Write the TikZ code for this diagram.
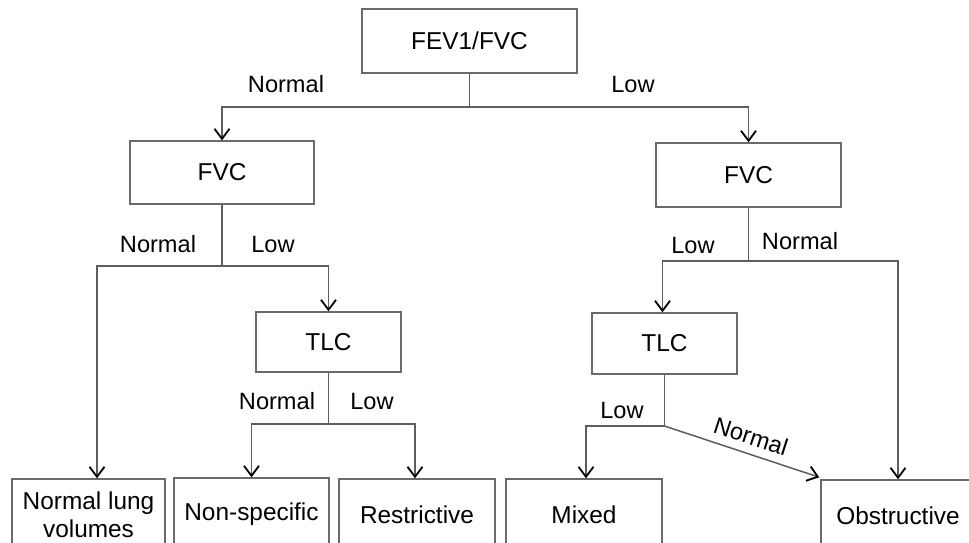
\documentclass[tikz,border=0pt]{standalone}
\usepackage{fontspec}
\setmainfont{Liberation Sans}
\usetikzlibrary{arrows.meta}
\definecolor{linegray}{HTML}{5E5E5E}
\definecolor{boxgray}{HTML}{6A6A6A}
\begin{document}
\begin{tikzpicture}[x=0.5pt,y=-0.5pt,
  every node/.style={font=\fontsize{11.8}{13.5}\selectfont, text=black},
  box/.style={draw=boxgray, line width=0.75pt, inner sep=0pt, align=center, font=\fontsize{12.2}{13.8}\selectfont},
  lbl/.style={anchor=base, inner sep=0pt},
  conn/.style={draw=linegray, line width=0.75pt},
  arr/.style={conn, -{Straight Barb[length=5pt,width=7.5pt,line width=0.9pt,color=black]}}]
\clip (0,0) rectangle (969,542);
\useasboundingbox (0,0) rectangle (969,542);
\fill[white] (0,0) rectangle (969,542);

% boxes
\node[box, minimum width=107.5pt, minimum height=32pt] (top) at (469.5,41) {\raisebox{-1pt}{FEV1/FVC}};
\node[box, minimum width=92pt, minimum height=31.5pt] (fvcL) at (222,172.5) {\raisebox{-1pt}{FVC}};
\node[box, minimum width=92.5pt, minimum height=32pt] (fvcR) at (748.5,175) {\raisebox{-1pt}{FVC}};
\node[box, minimum width=72.5pt, minimum height=30pt] (tlcL) at (328.5,342) {\raisebox{-1pt}{TLC}};
\node[box, minimum width=72.5pt, minimum height=30.5pt] (tlcR) at (664.5,343.5) {\raisebox{-1pt}{TLC}};
\node[box, minimum width=76.5pt, minimum height=36pt] (nlv) at (88.5,515) {Normal lung\\volumes};
\node[box, minimum width=77.5pt, minimum height=36pt] (nons) at (251.5,514) {Non-specific};
\node[box, minimum width=78pt, minimum height=36pt] (restr) at (417,515) {Restrictive};
\node[box, minimum width=78pt, minimum height=36pt] (mixed) at (584,515) {Mixed};
\node[box, minimum width=77pt, minimum height=36pt] (obst) at (898,516) {Obstructive};

% junctions
\coordinate (j1) at (469.5,107);
\coordinate (j2) at (222,266);
\coordinate (j3) at (328.5,424);
\coordinate (j4) at (748.5,261);
\coordinate (j5) at (664.5,426);

% connectors
\draw[conn] (top.south) -- (j1);
\draw[arr] (j1) -| (fvcL.north);
\draw[arr] (j1) -| (fvcR.north);

\draw[conn] (fvcL.south) -- (j2);
\draw[arr] (j2) -| ([xshift=4.25pt]nlv.north);
\draw[arr] (j2) -| (tlcL.north);

\draw[conn] (tlcL.south) -- (j3);
\draw[arr] (j3) -| (nons.north);
\draw[arr] (j3) -| ([xshift=-1pt]restr.north);

\draw[conn] (fvcR.south) -- (j4);
\draw[arr] (j4) -| ([xshift=-1pt]tlcR.north);
\draw[arr] (j4) -| (obst.north);

\draw[conn] (tlcR.south) -- (j5);
\draw[arr] (j5) -| ([xshift=1pt]mixed.north);
\draw[arr] (j5) -- ([xshift=-0.5pt,yshift=1pt]obst.north west);

% labels
\node[lbl] (l1) at (286,92) {Normal};
\node[lbl] (l2) at (633,92) {Low};
\node[lbl] (l3) at (158,252) {Normal};
\node[lbl] (l4) at (273,252) {Low};
\node[lbl] (l5) at (693,253) {Low};
\node[lbl] (l6) at (800,249) {Normal};
\node[lbl] (l7) at (277,409) {Normal};
\node[lbl] (l8) at (372,409) {Low};
\node[lbl] (l9) at (622,418) {Low};
\node[inner sep=0pt, rotate=-18] (l10) at (751,436) {Normal};
\end{tikzpicture}
\end{document}
